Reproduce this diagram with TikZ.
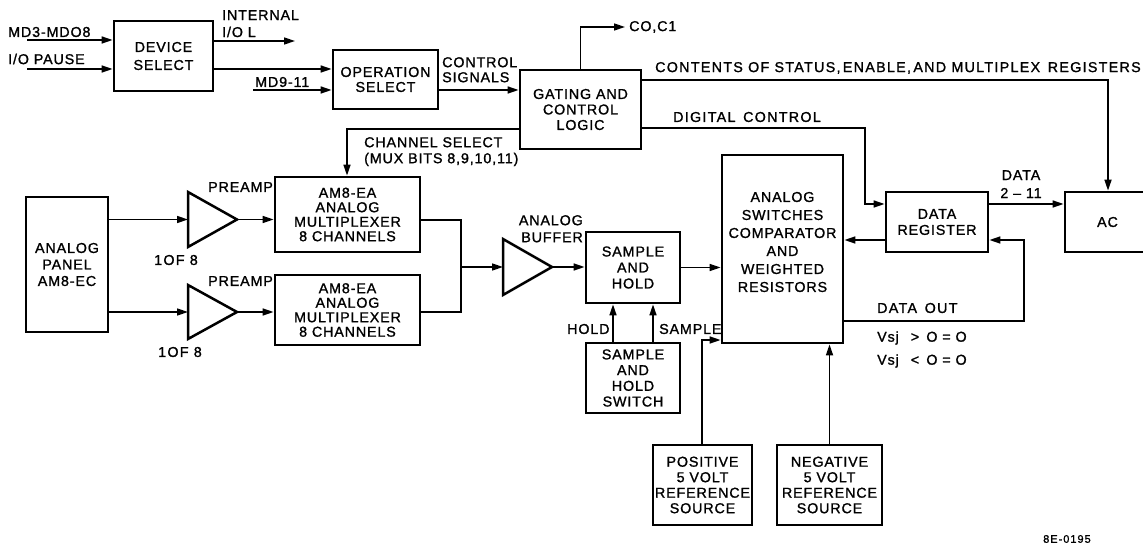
\documentclass[tikz,border=0pt]{standalone}
\usepackage{fontspec}
\setmainfont{Liberation Sans}[LetterSpace=6, FakeBold=1.2]
\newfontfamily\widefont{Liberation Sans}[LetterSpace=9, FakeBold=1.2]
\usetikzlibrary{arrows.meta}
\newcommand\dfs[1]{\fontsize{14.3}{#1}\selectfont}
\begin{document}
\begin{tikzpicture}[x=1pt,y=-1pt,
  box/.style={draw, line width=2.8pt, inner sep=0pt, align=center, font=\dfs{16}},
  wire/.style={line width=1.6pt},
  arr/.style={wire, -{Triangle[length=11pt,width=7pt]}},
  lbl/.style={inner sep=0pt, font=\dfs{17}, anchor=west, align=left},
  amp/.style={line width=2.5pt, line join=miter}]
\useasboundingbox (0,0) rectangle (1143,545);

% boxes
\node[box, minimum width=99pt, minimum height=70pt, font=\dfs{18}] (dev) at (163.5,56) {DEVICE\\SELECT};
\node[box, minimum width=105pt, minimum height=59pt, font=\dfs{15}] (ops) at (385.5,79.5) {OPERATION\\SELECT};
\node[box, minimum width=121pt, minimum height=79pt, font=\dfs{15.5}] (gate) at (580.5,109.5) {GATING AND\\CONTROL\\LOGIC};
\node[box, minimum width=82pt, minimum height=135pt, font=\dfs{16.5}] (panel) at (67,264.5) {ANALOG\\PANEL\\AM8-EC};
\node[box, minimum width=145pt, minimum height=75pt, font=\dfs{14.5}] (mux1) at (347.5,214.5) {AM8-EA\\ANALOG\\MULTIPLEXER\\8 CHANNELS};
\node[box, minimum width=145pt, minimum height=70pt, font=\dfs{14.5}] (mux2) at (347.5,310) {AM8-EA\\ANALOG\\MULTIPLEXER\\8 CHANNELS};
\node[box, minimum width=94pt, minimum height=71pt] (sh) at (633,267.5) {SAMPLE\\AND\\HOLD};
\node[box, minimum width=94pt, minimum height=70pt, font=\dfs{15.7}] (shsw) at (633,378) {SAMPLE\\AND\\HOLD\\SWITCH};
\node[box, minimum width=121pt, minimum height=188pt] (comp) at (782.5,249) {};
\node[inner sep=0pt, align=center, font=\dfs{18}] (comptext) at (782.5,242) {ANALOG\\SWITCHES\\COMPARATOR\\AND\\WEIGHTED\\RESISTORS};
\node[box, minimum width=102pt, minimum height=60pt] (dreg) at (937,222) {DATA\\REGISTER};
\node[box, minimum width=85pt, minimum height=60pt] (ac) at (1107.5,222) {AC};
\node[box, minimum width=99pt, minimum height=80pt, font=\dfs{15.5}] (pos) at (702.5,485) {POSITIVE\\5 VOLT\\REFERENCE\\SOURCE};
\node[box, minimum width=105pt, minimum height=80pt, font=\dfs{15.5}] (neg) at (829.5,485) {NEGATIVE\\5 VOLT\\REFERENCE\\SOURCE};

% amplifiers
\draw[amp] (188,192) -- (237,219.5) -- (188,247) -- cycle;
\coordinate (t1in) at (188,219.5); \coordinate (t1out) at (237,219.5);
\draw[amp] (188,285) -- (237,312) -- (188,339) -- cycle;
\coordinate (t2in) at (188,312); \coordinate (t2out) at (237,312);
\draw[amp] (503,239) -- (552,267) -- (503,295) -- cycle;
\coordinate (bin) at (503,267); \coordinate (bout) at (552,267);

% helper coordinates
\coordinate (md3s) at (27,40);
\coordinate (paus) at (27,69);
\coordinate (intl) at (295,41);
\coordinate (d2o) at (0,69);
\coordinate (md9) at (253,90);
\coordinate (o2g) at (0,90);
\coordinate (co) at (625,27);
\coordinate (cst) at (1108,80);
\coordinate (dc) at (865,128);
\coordinate (dcy) at (0,204);
\coordinate (chs) at (347,129);
\coordinate (mj1) at (461,220);
\coordinate (mj2) at (461,312);
\coordinate (mj) at (461,267);
\coordinate (hx) at (613,0);
\coordinate (sx) at (653,0);
\coordinate (pc) at (702,340);
\coordinate (dry) at (0,240);
\coordinate (do1) at (1024,321);

% connectors
\draw[arr] (md3s) -- (md3s -| dev.west);
\draw[arr] (paus) -- (paus -| dev.west);
\draw[arr] (intl -| dev.east) -- (intl);
\draw[arr] (dev.east |- d2o) -- (ops.west |- d2o);
\draw[arr] (md9) -- (md9 -| ops.west);
\draw[arr] (ops.east |- o2g) -- (gate.west |- o2g);
\draw[arr] (gate.north) |- (co);
\draw[arr] (gate.east |- cst) -- (cst) -- (cst |- ac.north);
\draw[arr] (gate.east |- dc) -- (dc) |- (dreg.west |- dcy);
\draw[arr] (gate.west |- chs) -- (chs) -- (chs |- mux1.north);
\draw[arr] (panel.east |- t1in) -- (t1in);
\draw[arr] (panel.east |- t2in) -- (t2in);
\draw[arr] (t1out) -- (mux1.west |- t1out);
\draw[arr] (t2out) -- (mux2.west |- t2out);
\draw[wire] (mux1.east |- mj1) -- (mj1) -- (mj2) -- (mux2.east |- mj2);
\draw[arr] (mj) -- (bin);
\draw[arr] (bout) -- (sh.west |- bout);
\draw[arr] (sh.east) -- (comp.west |- sh.east);
\draw[arr] (shsw.north -| hx) -- (sh.south -| hx);
\draw[arr] (shsw.north -| sx) -- (sh.south -| sx);
\draw[arr] (pos.north -| pc) -- (pc) -- (comp.west |- pc);
\draw[arr] (neg.north) -- (comp.south -| neg.north);
\draw[arr] (dreg.east |- dcy) -- (ac.west |- dcy);
\draw[arr] (dreg.west |- dry) -- (comp.east |- dry);
\draw[arr] (comp.east |- do1) -- (do1) |- (dreg.east |- dry);

% labels
\node[lbl] (lmd3) at (8,32) {MD3-MDO8};
\node[lbl] (lpause) at (8,59) {I/O PAUSE};
\node[lbl, anchor=north west] (lint) at (222,10) {INTERNAL\\I/O L};
\node[lbl] (lmd9) at (255,82) {MD9-11};
\node[lbl, anchor=north west, font=\dfs{15}] (lctl) at (442,57) {CONTROL\\SIGNALS};
\node[lbl] (lco) at (629,27) {CO,C1};
\node[lbl, font=\widefont\dfs{17}] (lcont) at (655,68) {CONTENTS OF STATUS,\,ENABLE,\,AND MULTIPLEX \,REGISTERS};
\node[lbl, font=\widefont\dfs{17}] (ldig) at (673,117) {DIGITAL \,CONTROL};
\node[lbl, anchor=north west, font=\dfs{16}] (lchs) at (364,137) {CHANNEL SELECT\\(MUX BITS 8,9,10,11)};
\node[lbl] (lpre1) at (208,187) {PREAMP};
\node[lbl] (lpre2) at (208,281) {PREAMP};
\node[lbl, font=\widefont\dfs{17}] (lof1) at (154,260) {1OF 8};
\node[lbl, font=\widefont\dfs{17}] (lof2) at (158,352) {1OF 8};
\node[lbl, anchor=north east, align=right, font=\dfs{17}] (lbuf) at (583,215) {ANALOG\\BUFFER};
\node[lbl] (lhold) at (567,329) {HOLD};
\node[lbl] (lsamp) at (659,329) {SAMPLE};
\node[lbl, anchor=north, align=center, font=\dfs{18}] (ldata) at (1021,170) {DATA\\2 -- 11};
\node[lbl, font=\widefont\dfs{17}] (ldout) at (877,308) {DATA \,OUT};
\node[lbl] (lvs1) at (877,338) {Vsj \ \,>\, O = O};
\node[lbl] (lvs2) at (877,361) {Vsj \ \,<\, O = O};
\node[inner sep=0pt, anchor=west, font=\widefont\fontsize{11}{13}\selectfont] (lref) at (1043,539) {8E-0195};
\end{tikzpicture}
\end{document}
